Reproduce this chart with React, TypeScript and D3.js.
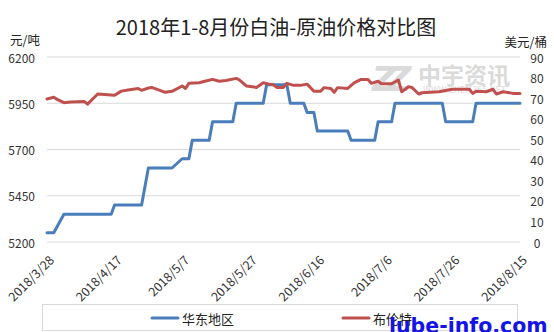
import React from "react";
import * as d3 from "d3";

// ---- data ----
const xTickDates = ["2018-03-28", "2018-04-17", "2018-05-07", "2018-05-27", "2018-06-16", "2018-07-06", "2018-07-26", "2018-08-15"];
const leftTicks = [5200, 5450, 5700, 5950, 6200];
const rightTicks = [0, 10, 20, 30, 40, 50, 60, 70, 80, 90];

const eastDates = [
  "2018-03-28", "2018-03-30", "2018-04-02", "2018-04-16", "2018-04-17", "2018-04-25", "2018-04-27",
  "2018-05-04", "2018-05-07", "2018-05-09", "2018-05-10", "2018-05-15", "2018-05-16", "2018-05-22",
  "2018-05-23", "2018-05-31", "2018-06-01", "2018-06-07", "2018-06-08", "2018-06-12", "2018-06-13",
  "2018-06-15", "2018-06-16", "2018-06-25", "2018-06-26", "2018-07-03", "2018-07-04", "2018-07-08",
  "2018-07-09", "2018-07-23", "2018-07-24", "2018-08-01", "2018-08-02", "2018-08-15",
];
const eastValues = [
  5250, 5250, 5350, 5350, 5400, 5400, 5600,
  5600, 5650, 5650, 5750, 5750, 5850, 5850,
  5950, 5950, 6050, 6050, 5950, 5950, 5900,
  5900, 5800, 5800, 5750, 5750, 5850, 5850,
  5950, 5950, 5850, 5850, 5950, 5950,
];

const brentDates = [
  "2018-03-28", "2018-03-30", "2018-03-31", "2018-04-02", "2018-04-04", "2018-04-08", "2018-04-09",
  "2018-04-12", "2018-04-17", "2018-04-19", "2018-04-21", "2018-04-24", "2018-04-25", "2018-04-27",
  "2018-04-28", "2018-05-02", "2018-05-04", "2018-05-07", "2018-05-08", "2018-05-09", "2018-05-12",
  "2018-05-14", "2018-05-16", "2018-05-18", "2018-05-20", "2018-05-23", "2018-05-24", "2018-05-26",
  "2018-05-29", "2018-05-31", "2018-06-02", "2018-06-03", "2018-06-04", "2018-06-06", "2018-06-07",
  "2018-06-09", "2018-06-11", "2018-06-13", "2018-06-15", "2018-06-17", "2018-06-18", "2018-06-20",
  "2018-06-21", "2018-06-22", "2018-06-25", "2018-06-27", "2018-06-29", "2018-07-01", "2018-07-02",
  "2018-07-04", "2018-07-05", "2018-07-08", "2018-07-10", "2018-07-11", "2018-07-13", "2018-07-14",
  "2018-07-16", "2018-07-17", "2018-07-22", "2018-07-26", "2018-07-31", "2018-08-01", "2018-08-02",
  "2018-08-05", "2018-08-07", "2018-08-08", "2018-08-10", "2018-08-11", "2018-08-13", "2018-08-15",
];
const brentValues = [
  69.6, 70.4, 69.4, 67.8, 68.1, 68.4, 67.1,
  72.0, 71.4, 73.4, 73.9, 74.7, 73.8, 74.9,
  75.2, 72.8, 73.3, 75.9, 74.7, 77.2, 77.5,
  78.3, 79.1, 78.2, 78.6, 79.6, 78.8, 75.9,
  75.2, 77.5, 76.7, 76.5, 75.2, 75.2, 77.2,
  76.2, 76.2, 76.8, 73.3, 73.3, 75.1, 74.7,
  72.8, 75.1, 74.7, 77.5, 79.1, 79.1, 77.2,
  78.2, 77.0, 77.0, 78.8, 73.1, 75.5, 75.2,
  72.0, 72.6, 73.1, 74.3, 74.3, 72.3, 73.3,
  73.1, 74.3, 72.0, 73.1, 72.8, 72.3, 72.3,
];

const seriesNames = ["华东地区", "布伦特"];
const title = "2018年1-8月份白油-原油价格对比图";

// ---- layout ----
const W = 554, H = 332;
const plot = { left: 47, right: 520, top: 57, bottom: 242 };
const CJK = "'Noto Sans CJK SC', 'Noto Sans', sans-serif";
const BLUE = "#4a7ebb";
const RED = "#c0504d";

const parse = d3.utcParse("%Y-%m-%d");
const fmt = d3.utcFormat("%Y/%-m/%-d");

export default function App() {
  const x = d3.scaleUtc()
    .domain([parse(xTickDates[0])!, parse(xTickDates[xTickDates.length - 1])!])
    .range([plot.left, plot.right]);
  const yL = d3.scaleLinear().domain([5200, 6200]).range([plot.bottom, plot.top]);
  const yR = d3.scaleLinear().domain([0, 90]).range([plot.bottom, plot.top]);

  const east = eastDates.map((d, i) => ({ d: parse(d)!, v: eastValues[i] }));
  const brent = brentDates.map((d, i) => ({ d: parse(d)!, v: brentValues[i] }));

  const lineE = d3.line<{ d: Date; v: number }>().x(p => x(p.d)).y(p => yL(p.v));
  const lineB = d3.line<{ d: Date; v: number }>().x(p => x(p.d)).y(p => yR(p.v));

  return (
    <svg width={W} height={H} style={{ position: "fixed", left: 0, top: 0, background: "#fff" }}
      fontFamily={CJK}>
      <rect x={0} y={0} width={W} height={H} fill="#fff" />
      {/* title */}
      <text x={276} y={26.5} fontSize={20} textAnchor="middle" dominantBaseline="central" fill="#222">{title}</text>
      <text x={10} y={39} fontSize={12.5} dominantBaseline="central" fill="#222">元/吨</text>
      <text x={547} y={41.5} fontSize={12.5} textAnchor="end" dominantBaseline="central" fill="#222">美元/桶</text>

      {/* grid */}
      {leftTicks.map(t => (
        <line key={"g" + t} x1={plot.left} x2={plot.right} y1={yL(t)} y2={yL(t)} stroke="#d9d9d9" strokeWidth={1} />
      ))}
      {leftTicks.map(t => (
        <text key={"l" + t} x={35} y={yL(t)} fontSize={12} textAnchor="end" dominantBaseline="central" fill="#333">{t}</text>
      ))}
      {rightTicks.map(t => (
        <text key={"r" + t} x={537} y={yR(t)} fontSize={12} textAnchor="middle" dominantBaseline="central" fill="#333">{t}</text>
      ))}
      {xTickDates.map(s => {
        const px = x(parse(s)!) + 8;
        const py = 261;
        return (
          <text key={"x" + s} x={px} y={py} fontSize={12.5} textAnchor="end" fill="#333"
            transform={`rotate(-45 ${px} ${py})`}>{fmt(parse(s)!)}</text>
        );
      })}

      {/* watermark */}
      <g opacity={0.55} fill="#bdbdbd">
        <text x={372} y={91} fontSize={34} fontWeight="bold" fontStyle="italic" fontFamily="'DejaVu Sans', sans-serif" letterSpacing={-10}>ZZ</text>
        <text x={418} y={84} fontSize={23} fontWeight="bold" fontFamily={CJK}>中宇资讯</text>
        <text x={423} y={93} fontSize={8} fontFamily="'DejaVu Sans', sans-serif">WWW.CHEM365.NET</text>
      </g>

      {/* lines */}
      <path d={lineE(east)!} fill="none" stroke={BLUE} strokeWidth={3} strokeLinejoin="round" strokeLinecap="round" />
      <path d={lineB(brent)!} fill="none" stroke={RED} strokeWidth={3} strokeLinejoin="round" strokeLinecap="round" />

      {/* legend */}
      <rect x={42.5} y={304.5} width={475} height={26} fill="#fff" stroke="#d9d9d9" strokeWidth={1} />
      <line x1={152} x2={178} y1={318} y2={318} stroke={BLUE} strokeWidth={3} strokeLinecap="round" />
      <text x={182} y={318} fontSize={13} dominantBaseline="central" fill="#222">{seriesNames[0]}</text>
      <line x1={343} x2={369} y1={318} y2={318} stroke={RED} strokeWidth={3} strokeLinecap="round" />
      <text x={373} y={318} fontSize={13} dominantBaseline="central" fill="#222">{seriesNames[1]}</text>

      {/* site watermark */}
      <text x={389} y={333} fontSize={20.5} fontWeight="bold" fontFamily="'DejaVu Sans', sans-serif" fill="#1414e6">lube-info.com</text>
    </svg>
  );
}
